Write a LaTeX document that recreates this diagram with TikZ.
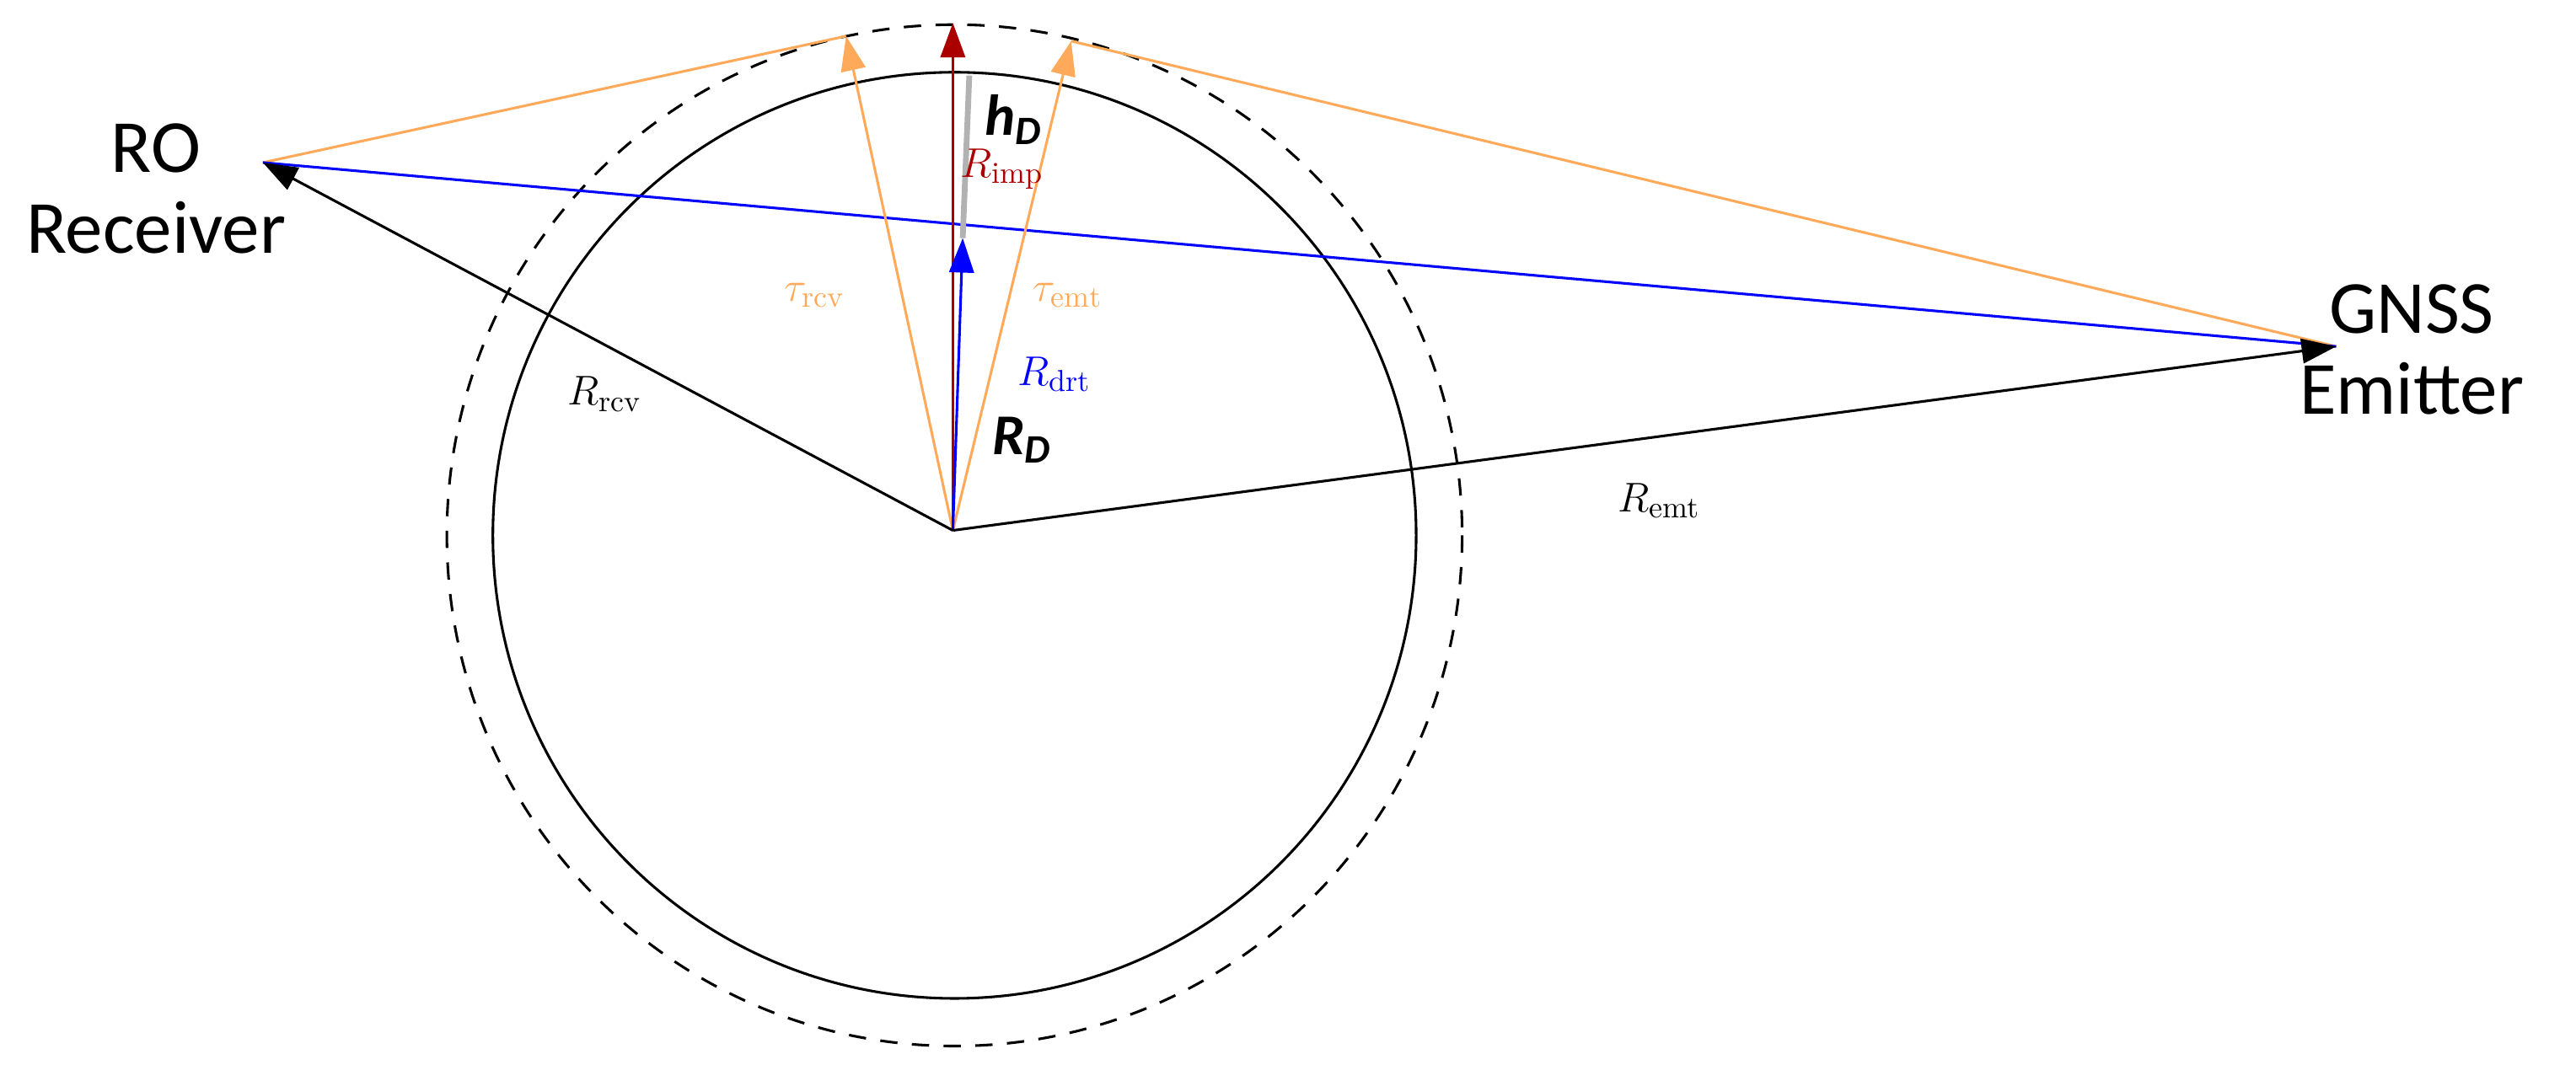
\documentclass[tikz,border=0pt]{standalone}
\usepackage{fontspec}
\newfontfamily\sans{Carlito}
\usetikzlibrary{arrows.meta,calc}
\definecolor{org}{RGB}{255,170,90}
\definecolor{dred}{RGB}{170,0,0}
\begin{document}
\begin{tikzpicture}[x=0.02cm,y=-0.02cm,
  ln/.style={line width=0.9pt},
  bigtip/.style={-{Triangle[length=0.42cm,width=0.3cm]}},
  lbl/.style={font=\sans\fontsize{26}{28}\selectfont,align=center},
  mth/.style={font=\fontsize{15}{16}\selectfont,inner sep=0pt}]
\useasboundingbox (0,0) rectangle (1568,658);
\coordinate (C) at (580,323);
\coordinate (rcv) at (160,99);
\coordinate (emt) at (1422,211);
\coordinate (tr) at (515,22);
\coordinate (te) at (652,25);
\coordinate (top) at (580,14);
\coordinate (drt) at (586,145);
\coordinate (hd) at (590,46);
\draw[ln] (581,326) ellipse (281 and 282);
\draw[ln,dashed,dash pattern=on 6pt off 5pt] (581,326) ellipse (309 and 311);
\draw[ln,org] (rcv) -- (tr);
\draw[ln,org] (emt) -- (te);
\draw[ln,blue] (rcv) -- (emt);
\draw[line width=2pt,gray!60] (drt) -- (hd);
\draw[ln,org,bigtip] (C) -- (tr);
\draw[ln,org,bigtip] (C) -- (te);
\draw[ln,dred,bigtip] (C) -- (top);
\draw[ln,blue,bigtip] (C) -- (drt);
\draw[ln,bigtip] (C) -- (rcv);
\draw[ln,bigtip] (C) -- (emt);
\node[lbl] (ro) at (95,115) {RO\\Receiver};
\node[lbl] (gn) at (1468,213) {GNSS\\Emitter};
\node[mth] (lrcv) at (368,240) {$R_{\mathrm{rcv}}$};
\node[mth] (lemt) at (1010,305) {$R_{\mathrm{emt}}$};
\node[mth,text=org] (ltr) at (496,180) {$\tau_{\mathrm{rcv}}$};
\node[mth,text=org] (lte) at (650,180) {$\tau_{\mathrm{emt}}$};
\node[mth,text=dred] (limp) at (610,103) {$R_{\mathrm{imp}}$};
\node[mth,text=blue] (ldrt) at (642,228) {$R_{\mathrm{drt}}$};
\node[font=\sans\bfseries\itshape\fontsize{20}{22}\selectfont] (lhd) at (617,73) {h\textsubscript{D}};
\node[font=\sans\bfseries\itshape\fontsize{20}{22}\selectfont] (lrd) at (622,268) {R\textsubscript{D}};
\end{tikzpicture}
\end{document}
